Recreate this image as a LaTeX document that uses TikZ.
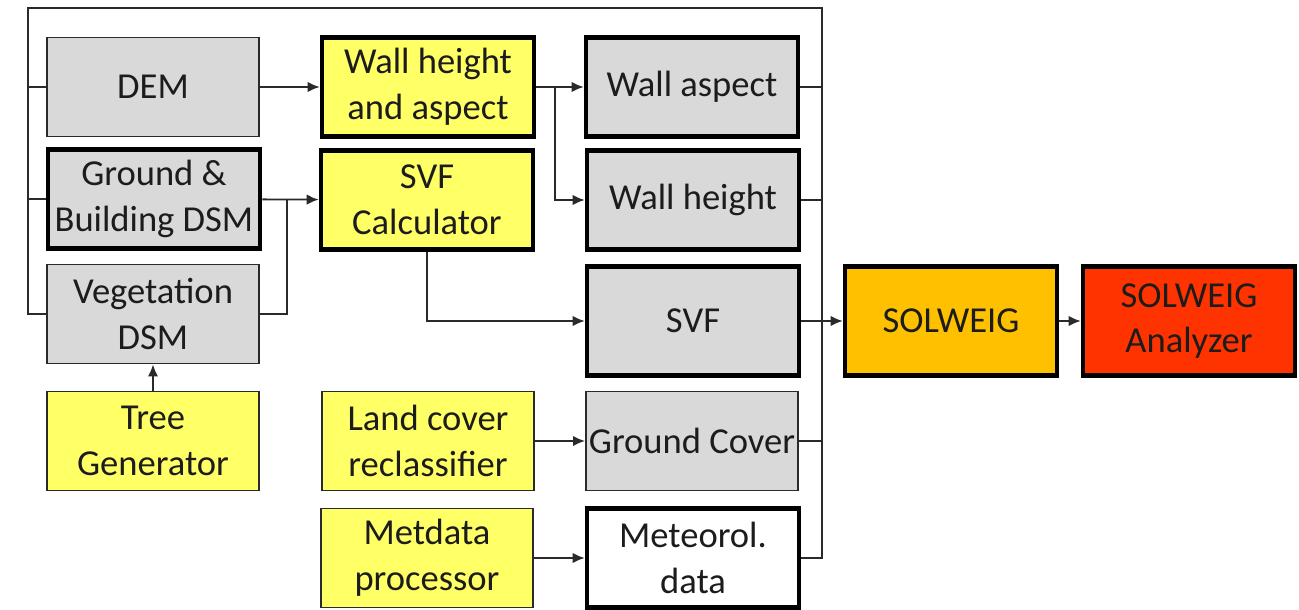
\documentclass[tikz,border=0pt]{standalone}
\usepackage{fontspec}
\setmainfont{Carlito}
\usetikzlibrary{arrows.meta}
\definecolor{boxgrey}{HTML}{D9D9D9}
\definecolor{boxyellow}{HTML}{FFFF66}
\definecolor{boxorange}{HTML}{FFC000}
\definecolor{boxred}{HTML}{FF3300}
\definecolor{txt}{HTML}{1C1C1C}
\definecolor{wire}{HTML}{2A2A2A}
\begin{document}
\begin{tikzpicture}[x=0.025cm,y=-0.025cm,
    box/.style={rectangle,align=center,text=txt,inner sep=1pt,
      minimum width=5.3cm,minimum height=2.475cm,
      font=\fontsize{26}{32.5}\selectfont},
    thin/.style={box,draw=wire,line width=1.3pt},
    bold/.style={box,draw=black,line width=3.2pt},
    tall/.style={minimum height=2.725cm},
    arr/.style={-{Latex[length=3mm,width=2.6mm]}}]
  \useasboundingbox (0,0) rectangle (1299,610);
  % input column
  \node[thin,fill=boxgrey] (dem) at (153,87) {DEM};
  \node[bold,fill=boxgrey] (gbdsm) at (154,199) {Ground \&\\Building DSM};
  \node[thin,fill=boxgrey] (vegdsm) at (153,314) {Vegetation\\DSM};
  \node[thin,fill=boxyellow] (treegen) at (153,441) {Tree\\Generator};
  % preprocessors
  \node[bold,fill=boxyellow] (wallha) at (428,87) {Wall height\\and aspect};
  \node[bold,fill=boxyellow] (svfcalc) at (427,200) {SVF\\Calculator};
  \node[thin,fill=boxyellow] (landcov) at (428,441) {Land cover\\reclassifier};
  \node[thin,fill=boxyellow] (metproc) at (427,558) {Metdata\\processor};
  % derived data
  \node[bold,fill=boxgrey] (wallasp) at (692,87) {Wall aspect};
  \node[bold,fill=boxgrey] (wallht) at (693,200) {Wall height};
  \node[bold,fill=boxgrey,tall] (svf) at (693,321) {SVF};
  \node[thin,fill=boxgrey] (gcover) at (692,441) {Ground Cover};
  \node[bold,fill=white] (meteo) at (693,558) {Meteorol.\\data};
  % model
  \node[bold,fill=boxorange,tall] (solweig) at (951,321) {SOLWEIG};
  \node[bold,fill=boxred,tall] (analyzer) at (1189,321) {SOLWEIG\\Analyzer};
  \coordinate (lefttop) at (28,8);
  \coordinate (righttop) at (822,8);
  \coordinate (vj) at (287,199);
  \coordinate (wj) at (555,87);
  \begin{scope}[draw=wire,line width=1.3pt]
    \draw (vegdsm.west) -| (lefttop) -- (righttop) |- (meteo.east);
    \draw (dem.west) -- (dem.west -| lefttop);
    \draw (gbdsm.west) -- (gbdsm.west -| lefttop);
    \draw (wallasp.east) -- (wallasp.east -| righttop);
    \draw (wallht.east) -- (wallht.east -| righttop);
    \draw (gcover.east) -- (gcover.east -| righttop);
    \draw (vegdsm.east) -| (vj);
    \draw[arr] (dem) -- (wallha);
    \draw[arr] (gbdsm) -- (svfcalc);
    \draw[arr] (wallha) -- (wallasp);
    \draw[arr] (wj) |- (wallht.west);
    \draw[arr] (svfcalc.south) |- (svf.west);
    \draw[arr] (treegen) -- (vegdsm);
    \draw[arr] (landcov) -- (gcover);
    \draw[arr] (metproc) -- (meteo);
    \draw[arr] (svf) -- (solweig);
    \draw[arr] (solweig) -- (analyzer);
  \end{scope}
\end{tikzpicture}
\end{document}
